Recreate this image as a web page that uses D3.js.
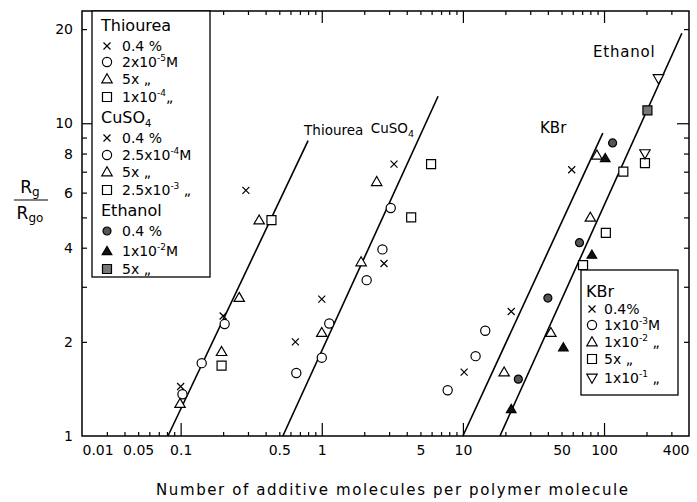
<!DOCTYPE html>
<html>
<head>
<meta charset="utf-8">
<script src="https://cdn.jsdelivr.net/npm/d3@7"></script>
<style>
  body { margin: 0; background: #fff; }
  text { font-family: "DejaVu Sans", sans-serif; fill: #000; }
</style>
</head>
<body>
<div id="chart-area"></div>
<script>
// ---- data: [molecules per polymer, Rg/Rgo] ----
const thioCross  = [[0.10, 1.44], [0.20, 2.42], [0.29, 6.1]];
const thioCircle = [[0.103, 1.36], [0.141, 1.71], [0.205, 2.28]];
const thioTri    = [[0.099, 1.27], [0.195, 1.86], [0.26, 2.77], [0.36, 4.9]];
const thioSquare = [[0.195, 1.68], [0.44, 4.9]];

const cuCross  = [[0.65, 2.0], [1.0, 2.74], [2.76, 3.56], [3.25, 7.4]];
const cuCircle = [[0.66, 1.59], [1.0, 1.78], [1.13, 2.29], [2.08, 3.15], [2.69, 3.95], [3.08, 5.36]];
const cuTri    = [[1.0, 2.14], [1.9, 3.6], [2.45, 6.5]];
const cuSquare = [[4.3, 5.0], [5.95, 7.4]];

const kbrCross   = [[10.2, 1.6], [22, 2.5], [59, 7.1]];
const kbrCircle  = [[7.8, 1.4], [12.3, 1.8], [14.4, 2.17]];
const kbrTri     = [[19.6, 1.6], [42, 2.14], [80, 5.0], [89, 7.9]];
const kbrSquare  = [[71, 3.52], [103, 4.46], [137, 7.0], [195, 7.46]];
const kbrTriDown = [[195, 8.0], [243, 13.9]];

const ethDot    = [[24.7, 1.52], [40, 2.76], [67, 4.15], [115, 8.65]];
const ethTri    = [[22, 1.22], [51.5, 1.92], [82, 3.8], [102, 7.74]];
const ethSquare = [[203, 11]];

// fitted lines (end points)
const thioLine = [[0.0813, 1], [0.80, 8.8]];
const cuLine   = [[0.53, 1], [6.67, 12.2]];
const kbrLine  = [[10, 1], [98, 9.3]];
const ethLine  = [[18.3, 1], [356, 19.4]];

// tick labels
const xLabelVals = [0.02, 0.05, 0.1, 0.5, 1, 5, 10, 50, 100, 400];
const xLabels = ["0.01", "0.05", "0.1", "0.5", "1", "5", "10", "50", "100", "400"];
const yLabelVals = [1, 2, 4, 6, 8, 10, 20];

const svgWidth = 697, svgHeight = 502;
const pLeft = 82, pRight = 689, pTop = 11, pBottom = 436;

const svg = d3.select("#chart-area").append("svg")
    .attr("width", svgWidth)
    .attr("height", svgHeight);

const x = d3.scaleLog().domain([0.02, 400]).range([pLeft, pRight]);
const y = d3.scaleLog().domain([1, 22.85]).range([pBottom, pTop]);

// minor / major tick values
const xMinor = [];
[0.01, 0.1, 1, 10, 100].forEach(d => {
  for (let k = 2; k <= 9; k++) {
    const v = +(d * k).toPrecision(3);
    if (v > 0.02 && v < 400) xMinor.push(v);
  }
});
const xMajor = [0.1, 1, 10, 100];
const yMinor = [2, 3, 4, 5, 6, 7, 8, 9, 20];
const yMajor = [10];

function ticks(axis, vals, size) {
  return axis.tickValues(vals).tickSizeInner(size).tickSizeOuter(0).tickFormat("");
}

const axes = svg.append("g").attr("class", "axes");
axes.append("g").attr("transform", `translate(0,${pBottom})`).call(ticks(d3.axisBottom(x), xMinor, -4));
axes.append("g").attr("transform", `translate(0,${pBottom})`).call(ticks(d3.axisBottom(x), xMajor, -13));
axes.append("g").attr("transform", `translate(0,${pTop})`).call(ticks(d3.axisTop(x), xMinor, -4));
axes.append("g").attr("transform", `translate(0,${pTop})`).call(ticks(d3.axisTop(x), xMajor, -12));
axes.append("g").attr("transform", `translate(${pLeft},0)`).call(ticks(d3.axisLeft(y), yMinor, -5));
axes.append("g").attr("transform", `translate(${pLeft},0)`).call(ticks(d3.axisLeft(y), yMajor, -12));
axes.append("g").attr("transform", `translate(${pRight},0)`).call(ticks(d3.axisRight(y), yMinor, -5));
axes.append("g").attr("transform", `translate(${pRight},0)`).call(ticks(d3.axisRight(y), yMajor, -12));
axes.selectAll(".domain").remove();
axes.selectAll("line").attr("stroke", "#000").attr("stroke-width", 1.2);

svg.append("rect")
  .attr("x", pLeft).attr("y", pTop)
  .attr("width", pRight - pLeft).attr("height", pBottom - pTop)
  .attr("fill", "none").attr("stroke", "#000").attr("stroke-width", 1.5);

// tick labels
const xl = svg.append("g")
  .attr("transform", `translate(0,${pBottom})`)
  .call(d3.axisBottom(x).tickValues(xLabelVals).tickSize(0).tickPadding(9)
    .tickFormat((d, i) => xLabels[i]));
xl.select(".domain").remove();
xl.selectAll("text").attr("font-size", 14).attr("font-family", "DejaVu Sans").attr("fill", "#000");
xl.selectAll("text").filter((d, i) => i === 0).attr("text-anchor", "start");
xl.selectAll("text").filter((d, i) => i === xLabelVals.length - 1).attr("text-anchor", "end");

const yl = svg.append("g")
  .attr("transform", `translate(${pLeft},0)`)
  .call(d3.axisLeft(y).tickValues(yLabelVals).tickSize(0).tickPadding(9)
    .tickFormat(d3.format("d")));
yl.select(".domain").remove();
yl.selectAll("text").attr("font-size", 14).attr("font-family", "DejaVu Sans").attr("fill", "#000");

// fitted lines
const line = d3.line().x(d => x(d[0])).y(d => y(d[1]));
[thioLine, cuLine, kbrLine, ethLine].forEach(l => {
  svg.append("path").attr("d", line(l))
    .attr("fill", "none").attr("stroke", "#000").attr("stroke-width", 1.6);
});

// curve labels
svg.append("text").text("Thiourea")
  .attr("x", x(thioLine[1][0]) - 4).attr("y", 135)
  .attr("font-family", "Liberation Sans").attr("font-size", 13.5);
const cuLab = svg.append("text").attr("x", 414).attr("y", 133)
  .attr("text-anchor", "end").attr("font-family", "Liberation Sans").attr("font-size", 13.5);
cuLab.append("tspan").text("CuSO");
cuLab.append("tspan").text("4").attr("font-size", 9.5).attr("dy", 4);
svg.append("text").text("KBr").attr("x", 540).attr("y", 133).attr("font-size", 15);
svg.append("text").text("Ethanol").attr("x", 593).attr("y", 57).attr("font-size", 15).attr("letter-spacing", 0.8);

// marker shapes
const shapes = {
  cross:   { d: "M-3.5,-3.5L3.5,3.5M-3.5,3.5L3.5,-3.5", fill: "none" },
  circle:  { d: "M4.6,0A4.6,4.6 0 1,1 -4.6,0A4.6,4.6 0 1,1 4.6,0Z", fill: "#fff" },
  tri:     { d: "M0,-5.2L5.2,3.8L-5.2,3.8Z", fill: "#fff" },
  square:  { d: "M-4.5,-4.5H4.5V4.5H-4.5Z", fill: "#fff" },
  triDown: { d: "M0,5.2L5.2,-3.8L-5.2,-3.8Z", fill: "#fff" },
  dot:     { d: "M4,0A4,4 0 1,1 -4,0A4,4 0 1,1 4,0Z", fill: "#555" },
  triFill: { d: "M0,-4.6L4.8,3.6L-4.8,3.6Z", fill: "#111" },
  sqFill:  { d: "M-4.5,-4.5H4.5V4.5H-4.5Z", fill: "#777" }
};

const series = [
  [thioCross, "cross"], [thioCircle, "circle"], [thioTri, "tri"], [thioSquare, "square"],
  [cuCross, "cross"], [cuCircle, "circle"], [cuTri, "tri"], [cuSquare, "square"],
  [kbrCross, "cross"], [kbrCircle, "circle"], [kbrTri, "tri"], [kbrSquare, "square"], [kbrTriDown, "triDown"],
  [ethDot, "dot"], [ethTri, "triFill"], [ethSquare, "sqFill"]
];

function marker(g, shape) {
  g.append("path")
    .attr("d", shapes[shape].d)
    .attr("fill", shapes[shape].fill)
    .attr("stroke", "#000")
    .attr("stroke-width", 1.2);
}

series.forEach(([pts, shape]) => {
  svg.append("g").selectAll("g")
    .data(pts)
    .enter()
    .append("g")
      .attr("transform", d => `translate(${x(d[0])},${y(d[1])})`)
      .each(function () { marker(d3.select(this), shape); });
});

// legends
function legend(box, rows) {
  const g = svg.append("g");
  g.append("rect")
    .attr("x", box[0]).attr("y", box[1])
    .attr("width", box[2]).attr("height", box[3])
    .attr("fill", "#fff").attr("stroke", "#000").attr("stroke-width", 1.3);
  rows.forEach(r => {
    if (r.title) {
      const t = g.append("text").attr("x", r.x).attr("y", r.y).attr("font-size", 16);
      t.append("tspan").text(r.title);
      if (r.sub) t.append("tspan").text(r.sub).attr("font-size", 10).attr("dy", 4);
      return;
    }
    const m = g.append("g").attr("transform", `translate(${r.mx},${r.y - 5})`);
    marker(m, r.shape);
    const t = g.append("text").attr("x", r.x).attr("y", r.y).attr("font-size", 14);
    t.append("tspan").text(r.a);
    if (r.sup) {
      t.append("tspan").text(r.sup).attr("font-size", 9).attr("dy", -6);
      t.append("tspan").text(r.b || "").attr("dy", 6);
    }
  });
}

const D = "\u201E";
legend([92, 11, 118, 266], [
  { title: "Thiourea", x: 101, y: 31 },
  { shape: "cross",  mx: 107, x: 122, y: 51,  a: "0.4 %" },
  { shape: "circle", mx: 107, x: 122, y: 67,  a: "2x10", sup: "-5", b: "M" },
  { shape: "tri",    mx: 107, x: 122, y: 84,  a: "5x   " + D },
  { shape: "square", mx: 107, x: 122, y: 102, a: "1x10", sup: "-4", b: D },
  { title: "CuSO", sub: "4", x: 101, y: 123 },
  { shape: "cross",  mx: 107, x: 122, y: 143, a: "0.4 %" },
  { shape: "circle", mx: 107, x: 122, y: 160, a: "2.5x10", sup: "-4", b: "M" },
  { shape: "tri",    mx: 107, x: 122, y: 177, a: "5x    " + D },
  { shape: "square", mx: 107, x: 122, y: 195, a: "2.5x10", sup: "-3", b: " " + D },
  { title: "Ethanol", x: 101, y: 216 },
  { shape: "dot",     mx: 107, x: 122, y: 236, a: "0.4 %" },
  { shape: "triFill", mx: 107, x: 122, y: 256, a: "1x10", sup: "-2", b: "M" },
  { shape: "sqFill",  mx: 107, x: 122, y: 274, a: "5x   " + D }
]);

legend([581, 270, 97, 125], [
  { title: "KBr", x: 586, y: 297 },
  { shape: "cross",   mx: 592, x: 604, y: 314, a: "0.4%" },
  { shape: "circle",  mx: 592, x: 604, y: 330, a: "1x10", sup: "-3", b: "M" },
  { shape: "tri",     mx: 592, x: 604, y: 347, a: "1x10", sup: "-2", b: " " + D },
  { shape: "square",  mx: 592, x: 604, y: 364, a: "5x   " + D },
  { shape: "triDown", mx: 592, x: 604, y: 383, a: "1x10", sup: "-1", b: " " + D }
]);

// axis titles
svg.append("text").text("Number  of  additive  molecules  per  polymer  molecule")
  .attr("x", 392).attr("y", 495).attr("text-anchor", "middle")
  .attr("font-size", 15).attr("textLength", 472).attr("lengthAdjust", "spacing");

const fr = svg.append("g");
const rg = fr.append("text").attr("x", 30).attr("y", 193).attr("text-anchor", "middle").attr("font-size", 17);
rg.append("tspan").text("R");
rg.append("tspan").text("g").attr("font-size", 12).attr("dy", 3);
fr.append("line").attr("x1", 14).attr("x2", 48).attr("y1", 200).attr("y2", 200)
  .attr("stroke", "#000").attr("stroke-width", 1.2);
const rgo = fr.append("text").attr("x", 30).attr("y", 219).attr("text-anchor", "middle").attr("font-size", 17);
rgo.append("tspan").text("R");
rgo.append("tspan").text("go").attr("font-size", 12).attr("dy", 3);
</script>
</body>
</html>
